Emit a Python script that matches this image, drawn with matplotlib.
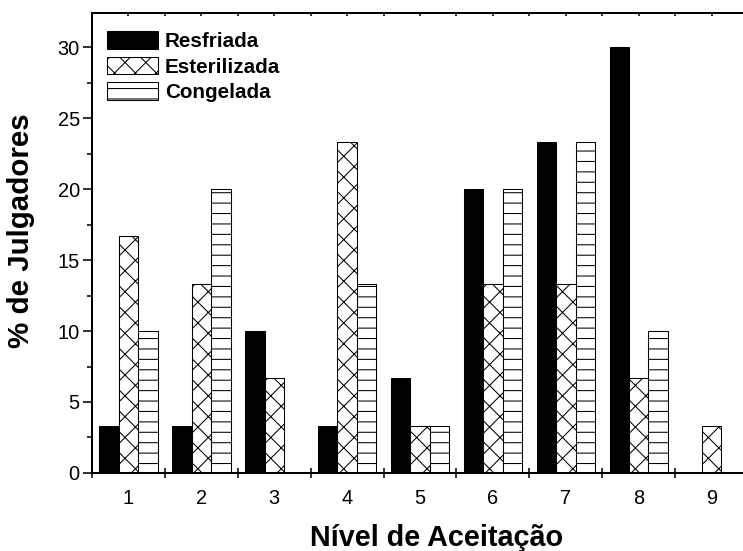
import numpy as np
import matplotlib.pyplot as plt

# % of judges per acceptance level
niveis = [1, 2, 3, 4, 5, 6, 7, 8, 9]
resfriada = [3.33, 3.33, 10.0, 3.33, 6.67, 20.0, 23.33, 30.0, 0.0]
esterilizada = [16.67, 13.33, 6.67, 23.33, 3.33, 13.33, 13.33, 6.67, 3.33]
congelada = [10.0, 20.0, 0.0, 13.33, 3.33, 20.0, 23.33, 10.0, 0.0]

DPI = 125
plt.rcParams['font.family'] = ['Liberation Sans', 'DejaVu Sans']
plt.rcParams['hatch.linewidth'] = 0.6
plt.rcParams['hatch.color'] = 'black'

fig = plt.figure(figsize=(743 / DPI, 551 / DPI), dpi=DPI)
ax = fig.add_axes([0.1238, 0.1416, 0.8762, 0.8348])

x = np.array(niveis)
w = 0.267
ax.bar(x - w, resfriada, w, color='black', edgecolor='black', linewidth=0.6,
       label='Resfriada')
ax.bar(x, esterilizada, w, color='white', edgecolor='black', linewidth=0.6,
       hatch='xx', label='Esterilizada')
ax.bar(x + w, congelada, w, color='white', edgecolor='black', linewidth=0.6,
       hatch='--', label='Congelada')

ax.set_xlim(0.5, 9.43)
ax.set_ylim(0, 32.4)

# spines
for s in ['left', 'bottom', 'top']:
    ax.spines[s].set_linewidth(1.15)
ax.spines['right'].set_visible(False)

# x ticks: labels at integers, tick marks between groups
ax.set_xticks(niveis)
ax.set_xticklabels([str(n) for n in niveis])
ax.set_xticks(np.arange(0.5, 9.0, 1.0), minor=True)
ax.tick_params(axis='x', which='major', length=0, labelsize=11.5, pad=9)
ax.tick_params(axis='x', which='minor', direction='inout', length=6, width=0.9)

# y ticks
ax.set_yticks(np.arange(0, 31, 5))
ax.set_yticks(np.arange(2.5, 31, 5), minor=True)
ax.tick_params(axis='y', which='major', direction='out', length=5, width=0.9,
               labelsize=11.5, pad=2)
ax.tick_params(axis='y', which='minor', direction='out', length=2.8, width=0.9)

# top axis small inward ticks
top = ax.secondary_xaxis('top')
top.set_xticks(np.arange(1.0, 9.5, 0.5))
top.tick_params(axis='x', direction='in', length=2, width=0.9, labeltop=False)
top.spines['top'].set_linewidth(1.15)

ax.set_xlabel('Nível de Aceitação', fontsize=16.6, fontweight='bold')
ax.xaxis.set_label_coords(0.53, -0.112)
ax.set_ylabel('% de Julgadores', fontsize=17, fontweight='bold')
ax.yaxis.set_label_coords(-0.087, 0.526)

ax.legend(loc='upper left', bbox_to_anchor=(0.023, 0.96), frameon=False,
          prop={'weight': 'bold', 'size': 11.9}, borderaxespad=0, borderpad=0,
          handlelength=2.46, handleheight=0.95, handletextpad=0.34,
          labelspacing=0.25)

fig.savefig('out.png', dpi=DPI)
